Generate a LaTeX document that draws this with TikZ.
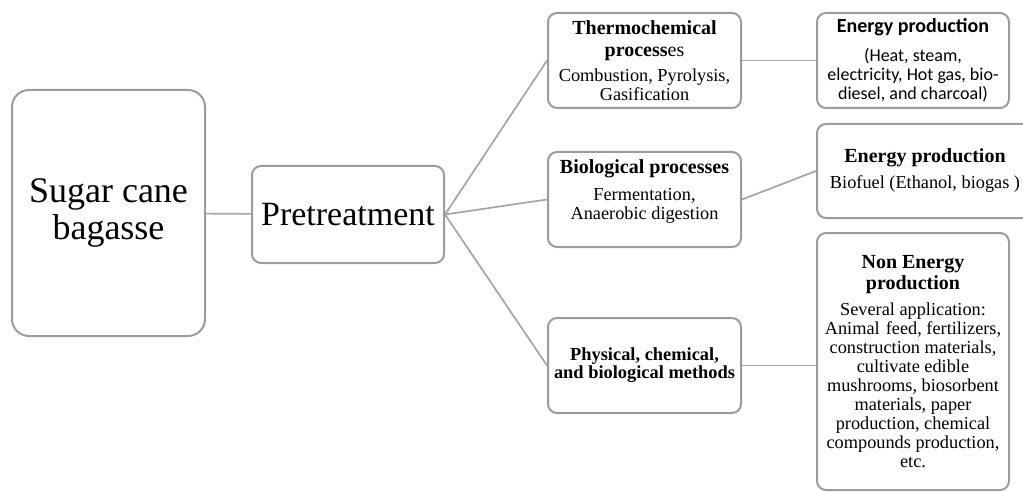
\documentclass[tikz,border=0pt]{standalone}
\usepackage{fontspec}
\setmainfont{Liberation Serif}
\newfontfamily\calibri{Carlito}
\usetikzlibrary{calc}

\definecolor{boxgray}{HTML}{9C9C9C}
\definecolor{linkgray}{HTML}{A4A4A4}

\newcommand\bigtxt{\fontsize{34}{37}\selectfont}
\newcommand\hdtxt{\fontsize{20}{19.5}\selectfont\bfseries}
\newcommand\bodytxt{\fontsize{18.3}{19}\selectfont}

\begin{document}
\begin{tikzpicture}[
  x=1pt, y=-1pt,
  every node/.style={align=center},
  box/.style={draw=boxgray, line width=2pt, rounded corners=9pt, fill=white, inner sep=2pt, font=\bodytxt},
  mid/.style={box, minimum width=193pt, minimum height=95pt},
  link/.style={draw=linkgray, line width=1.7pt},
]
  \useasboundingbox (0,0) rectangle (1023,492);

  \node[box, minimum width=193pt, minimum height=246pt, rounded corners=17pt, font=\fontsize{36}{37}\selectfont] (bagasse) at (108.5,213) {Sugar cane\\bagasse};
  \node[box, minimum width=192pt, minimum height=97pt, font=\bigtxt] (pretreat) at (348,214.5) {Pretreatment};

  % process routes
  \node[mid] (thermo) at (644.5,60.5)
       {{\hdtxt Thermochemical}\\[3pt]{\hdtxt process}{\fontsize{20}{20}\selectfont es}\\[6pt]
        Combustion, Pyrolysis,\\Gasification};
  \node[mid] (bio) at (644.5,199.5)
       {{\hdtxt Biological processes}\\[8pt]
        Fermentation,\\Anaerobic digestion\rule[-20pt]{0pt}{0pt}};
  \node[mid, font=\fontsize{18.4}{18}\selectfont\bfseries] (phys) at (644.5,365.5)
       {Physical, chemical,\\and biological methods};

  % products
  \node[box, minimum width=192pt, minimum height=95pt, font=\calibri\fontsize{18}{19}\selectfont] (energyA) at (913,60.5)
       {{\fontsize{20}{20}\selectfont\bfseries Energy production}\\[10pt]
        (Heat, steam,\\electricity, Hot gas, bio-\\diesel, and charcoal)};
  \node[box, minimum width=216pt, minimum height=94pt] (energyB) at (925,171)
       {{\hdtxt Energy production}\\[7pt]Biofuel (Ethanol, biogas )};
  \node[box, minimum width=192pt, minimum height=257pt] (nonenergy) at (913,361.5)
       {{\hdtxt Non Energy}\\[2pt]{\hdtxt production}\\[7pt]
        Several application:\\Animal\,\,feed, fertilizers,\\
        construction materials,\\cultivate edible\\
        mushrooms, biosorbent\\materials, paper\\
        production, chemical\\compounds production,\\etc.};

  \draw[link] (bagasse) -- (pretreat);
  \draw[link] (pretreat.east) -- (thermo.west);
  \draw[link] (pretreat.east) -- (bio.west);
  \draw[link] (pretreat.east) -- (phys.west);
  \draw[link] (thermo) -- (energyA);
  \draw[link] (bio.east) -- (energyB.west);
  \draw[link] (phys.east) -- (phys.east -| nonenergy.west);
\end{tikzpicture}
\end{document}
